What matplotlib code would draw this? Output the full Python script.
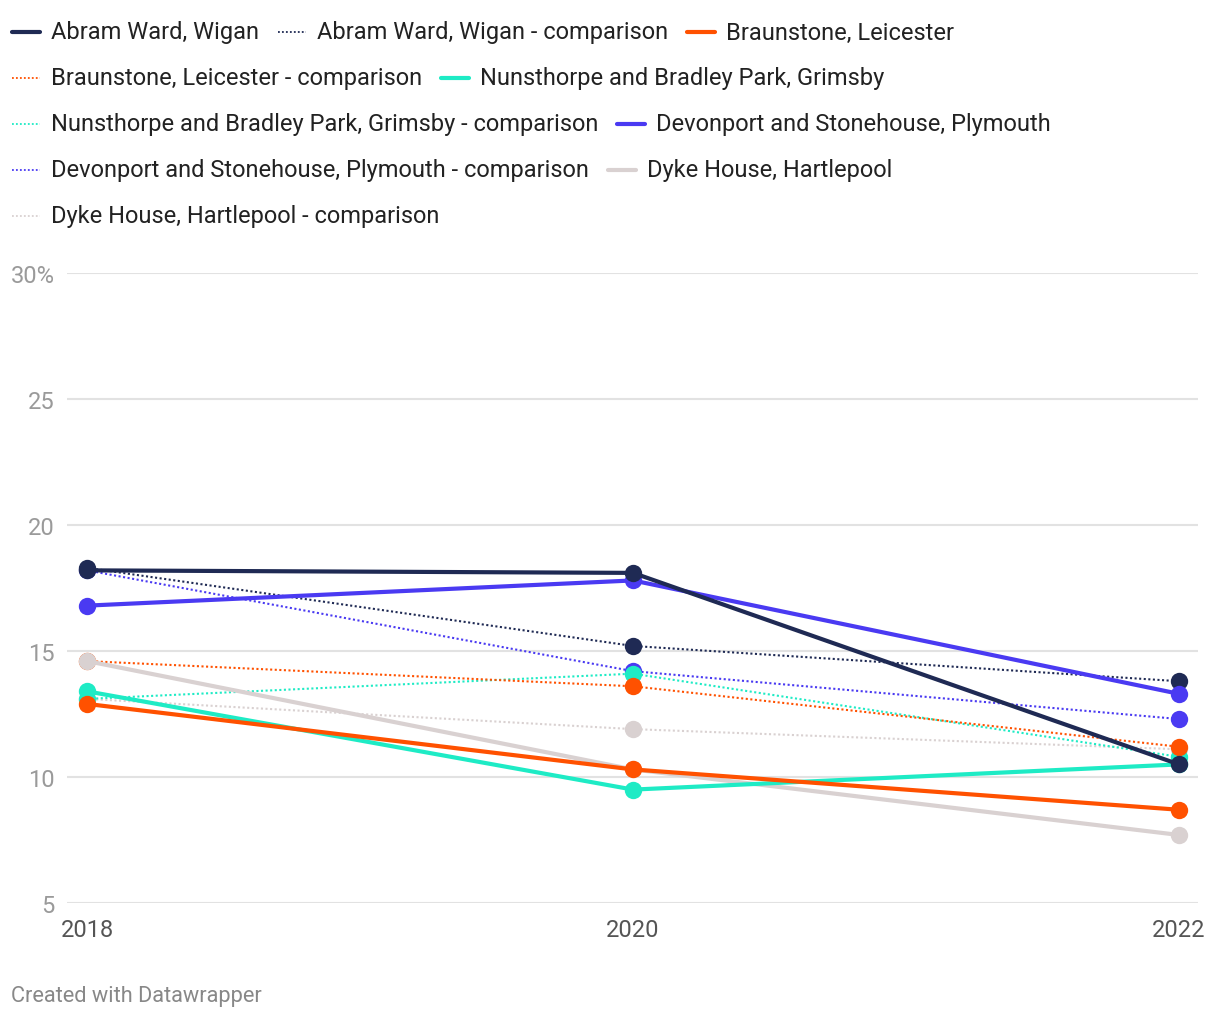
import matplotlib
matplotlib.use("Agg")
import matplotlib.pyplot as plt
from matplotlib.lines import Line2D

plt.rcParams['font.family'] = ['Roboto', 'DejaVu Sans']

years = [2018, 2020, 2022]
names = ["Abram Ward, Wigan", "Braunstone, Leicester", "Nunsthorpe and Bradley Park, Grimsby",
         "Devonport and Stonehouse, Plymouth", "Dyke House, Hartlepool"]
colors = ["#1f2a54", "#ff5100", "#1eebc5", "#4a3af2", "#d9d1d1"]

abram = [18.2, 18.1, 10.5]
abram_cmp = [18.3, 15.2, 13.8]
braunstone = [12.9, 10.3, 8.7]
braunstone_cmp = [14.6, 13.6, 11.2]
nunsthorpe = [13.4, 9.5, 10.5]
nunsthorpe_cmp = [13.1, 14.1, 10.8]
devonport = [16.8, 17.8, 13.3]
devonport_cmp = [18.2, 14.2, 12.3]
dyke = [14.6, 10.3, 7.7]
dyke_cmp = [13.1, 11.9, 11.1]

solid = [abram, braunstone, nunsthorpe, devonport, dyke]
comp = [abram_cmp, braunstone_cmp, nunsthorpe_cmp, devonport_cmp, dyke_cmp]
solid_z = [10, 9, 8, 7, 6]
comp_z = [5, 4, 3, 2, 1]

yticks = [5, 10, 15, 20, 25, 30]
ytick_labels = ["5", "10", "15", "20", "25", "30%"]

W, H = 1220, 1020
fig = plt.figure(figsize=(W / 100, H / 100), dpi=100)
ax = fig.add_axes([67 / W, 1 - 904 / H, (1198 - 67) / W, (904 - 274) / H])

dotted = (0, (1.0, 1.2))
for vals, c, z in zip(comp, colors, comp_z):
    ax.plot(years, vals, color=c, lw=1.5, ls=dotted, marker='o', ms=12.5,
            markeredgewidth=0, zorder=z)
for vals, c, z in zip(solid, colors, solid_z):
    ax.plot(years, vals, color=c, lw=3.0, marker='o', ms=12.5,
            markeredgewidth=0, zorder=z)

ax.set_xlim(2018 - 20 / 273, 2022 + 19 / 273)
ax.set_ylim(5, 30)
ax.set_yticks(yticks)
ax.set_yticklabels(ytick_labels)
ax.set_xticks(years)
ax.set_xticklabels([str(y) for y in years])
for s in ax.spines.values():
    s.set_visible(False)
ax.grid(axis='y', color='#e2e2e2', lw=1.5, zorder=0)
ax.set_axisbelow(True)
ax.tick_params(axis='y', length=0, pad=9.0, labelsize=17, labelcolor='#9a9a9a')
ax.tick_params(axis='x', length=0, pad=11, labelsize=17, labelcolor='#555555')

# legend (flow layout)
fig.canvas.draw()
renderer = fig.canvas.get_renderer()
items = []
for n, c in zip(names, colors):
    items.append((n, c, '-'))
    items.append((n + " - comparison", c, ':'))

x0 = 12
x = x0
row_y = 33
row_h = 46
max_x = 1210
handle_w = 28
gap_text = 11
gap_item = 19
for label, c, st in items:
    t = fig.text(0, 0, label, fontsize=17, color='#222222')
    w = t.get_window_extent(renderer).width
    t.remove()
    total = handle_w + gap_text + w
    if x + total > max_x and x > x0:
        x = x0
        row_y += row_h
    yy = 1 - row_y / H
    if st == '-':
        fig.add_artist(Line2D([x / W, (x + handle_w) / W], [yy, yy], color=c, lw=3.0,
                              solid_capstyle='round', transform=fig.transFigure))
    else:
        fig.add_artist(Line2D([x / W, (x + handle_w) / W], [yy, yy], color=c, lw=1.3,
                              ls=(0, (1.0, 1.2)), transform=fig.transFigure))
    fig.text((x + handle_w + gap_text) / W, yy, label, fontsize=17, color='#222222',
             va='center', ha='left')
    x += total + gap_item

fig.text(11 / W, 1 - 997 / H, "Created with Datawrapper", fontsize=15.7, color='#888888',
         va='center', ha='left')

fig.savefig("out.png", dpi=100)
